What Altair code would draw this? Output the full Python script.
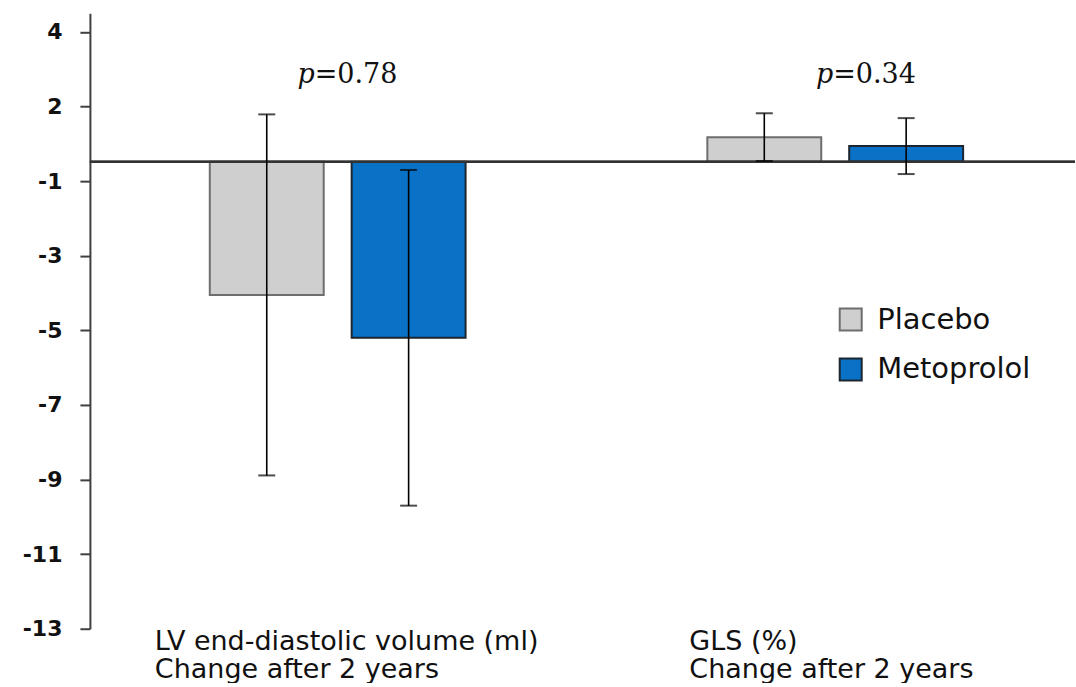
import json
import altair as alt
import pandas as pd

# ---- data ----
categories = ["LV end-diastolic volume (ml)", "GLS (%)"]
subtitle_line = "Change after 2 years"
series = ["Placebo", "Metoprolol"]
placebo_mean = [-3.57, 0.66]
placebo_err = [4.84, 0.64]
metoprolol_mean = [-4.72, 0.42]
metoprolol_err = [4.50, 0.75]
p_values = ["=0.78", "=0.34"]

# axis ticks (as printed on the original axis)
tick_values = [-12.52, -10.52, -8.52, -6.52, -4.52, -2.52, -0.52, 1.48, 3.48]
tick_labels = ["-13", "-11", "-9", "-7", "-5", "-3", "-1", "2", "4"]

fill_colors = ["#cfcfcf", "#0a72c6"]
stroke_colors = ["#6e6e6e", "#1b2631"]

rows = []
for s, means, errs in [("Placebo", placebo_mean, placebo_err),
                       ("Metoprolol", metoprolol_mean, metoprolol_err)]:
    for c, m, e in zip(categories, means, errs):
        rows.append({"category": c, "series": s, "mean": m,
                     "lower": m - e, "upper": m + e})
df = pd.DataFrame(rows)

p_df = pd.DataFrame({"category": categories, "p": p_values})
lab_df = pd.DataFrame({"category": categories,
                       "label": [c + "\n" + subtitle_line for c in categories]})

xscale = alt.Scale(domain=categories, range=[-1, 995], paddingInner=0, paddingOuter=0)
yscale = alt.Scale(domain=[-12.52, 3.98], nice=False, zero=False)
xoff = alt.XOffset("series:N", sort=series,
                   scale=alt.Scale(domain=series, paddingInner=0.197, paddingOuter=0.852))

label_expr = f"{json.dumps(tick_labels)}[round((datum.value - ({tick_values[0]})) / 2)]"

yaxis = alt.Axis(values=tick_values, labelExpr=label_expr, title=None, grid=False,
                 domainColor="#404040", domainWidth=2, tickColor="#404040",
                 tickWidth=2, tickSize=10, labelPadding=18,
                 labelFont="DejaVu Sans", labelFontWeight="bold", labelFontSize=22,
                 labelColor="#111111", minExtent=85, maxExtent=85)


def xenc():
    return alt.X("category:N", sort=categories, scale=xscale, axis=None)


def yenc(field):
    return alt.Y(field, scale=yscale, axis=yaxis)


base = alt.Chart(df)

bars = base.mark_bar(strokeWidth=2).encode(
    x=xenc(),
    xOffset=xoff,
    y=yenc("mean:Q"),
    color=alt.Color("series:N", sort=series,
                    scale=alt.Scale(domain=series, range=fill_colors),
                    legend=alt.Legend(orient="none", legendX=747, legendY=292,
                                      title=None, labelFont="DejaVu Sans",
                                      labelFontSize=29, labelColor="#111111",
                                      symbolType="square", symbolSize=484,
                                      symbolStrokeColor="#222222",
                                      symbolStrokeWidth=2, labelOffset=12,
                                      rowPadding=19, padding=0)),
    stroke=alt.Stroke("series:N", sort=series,
                      scale=alt.Scale(domain=series, range=stroke_colors),
                      legend=None),
)

baseline = alt.Chart(df).mark_rule(color="#333333", strokeWidth=2).encode(
    y=alt.datum(0)
)

err_rule = base.mark_rule(color="black", strokeWidth=1.6).encode(
    x=xenc(), xOffset=xoff, y=yenc("lower:Q"), y2="upper:Q",
)
cap_hi = base.mark_tick(color="black", thickness=2, size=17).encode(
    x=xenc(), xOffset=xoff, y=yenc("upper:Q"),
)
cap_lo = base.mark_tick(color="black", thickness=2, size=17).encode(
    x=xenc(), xOffset=xoff, y=yenc("lower:Q"),
)

layers = [bars, baseline, err_rule, cap_hi, cap_lo]

p_dx = [-23, -2]
lab_dx = [-183, -146]
for i, c in enumerate(categories):
    pc = alt.Chart(p_df).transform_filter(alt.datum.category == c)
    layers.append(pc.mark_text(text="p", font="DejaVu Serif", fontStyle="italic",
                               fontSize=27, align="right", baseline="alphabetic",
                               dx=p_dx[i], color="#111111").encode(
        x=xenc(), y=alt.value(70)))
    layers.append(pc.mark_text(font="DejaVu Serif", fontSize=27, align="left",
                               baseline="alphabetic", dx=p_dx[i],
                               color="#111111").encode(
        x=xenc(), y=alt.value(70), text="p:N"))
    lc = alt.Chart(lab_df).transform_filter(alt.datum.category == c)
    layers.append(lc.mark_text(font="DejaVu Sans", fontSize=27, align="left",
                               baseline="alphabetic", lineBreak="\n",
                               lineHeight=28, dx=lab_dx[i],
                               color="#111111").encode(
        x=xenc(), y=alt.value(637), text="label:N"))

chart = alt.layer(*layers).properties(
    width=986, height=616,
    padding={"left": 5, "top": 13, "right": 0, "bottom": 0},
    background="white",
).configure_view(stroke=None)

chart.save("out.html", embed_options={"renderer": "svg", "actions": False})
